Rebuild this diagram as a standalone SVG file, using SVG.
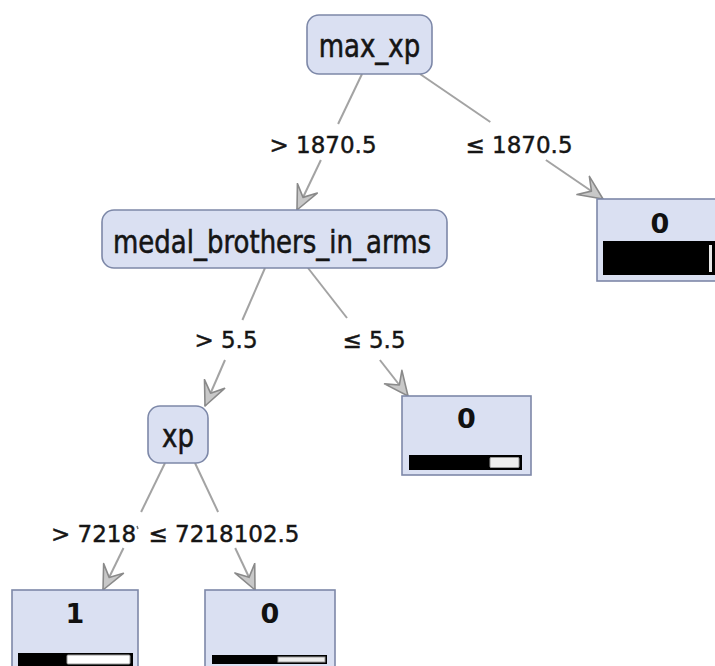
<svg xmlns="http://www.w3.org/2000/svg" width="715" height="666" viewBox="0 0 715 666">
<defs>
<marker id="arr" markerUnits="userSpaceOnUse" markerWidth="28" markerHeight="26" refX="25" refY="13" orient="auto">
<path d="M1,2 L25,13 L1,24 L11,13 Z" fill="#c8c8c8" stroke="#8a8a8a" stroke-width="1.6" stroke-linejoin="round"/>
</marker>
<style>
.node{fill:#dae0f2;stroke:#7d88a8;stroke-width:1.6}
.leaf{fill:#dae0f2;stroke:#7d88a8;stroke-width:1.6}
.nl{font-family:"DejaVu Sans",sans-serif;font-size:26px;fill:#151515;stroke:#151515;stroke-width:0.5;text-anchor:middle}
.el{font-family:"DejaVu Sans",sans-serif;font-size:23px;fill:#151515;stroke:#151515;stroke-width:0.45;text-anchor:middle}
.ll{font-family:"DejaVu Sans",sans-serif;font-weight:bold;font-size:27px;fill:#111;text-anchor:middle}
.ln{stroke:#a3a3a3;stroke-width:2;fill:none}
.bar{fill:#000}
.bw{fill:#eeeeee;stroke:#9a9a9a;stroke-width:1}
</style>
</defs>
<rect width="715" height="666" fill="#ffffff"/>
<g id="connectors">
<line class="ln" x1="362" y1="74" x2="338.1" y2="124"/>
<line class="ln" x1="320.9" y1="160" x2="297" y2="210" marker-end="url(#arr)"/>
<line class="ln" x1="420" y1="74" x2="490.3" y2="122"/>
<line class="ln" x1="545.9" y1="160" x2="603" y2="199" marker-end="url(#arr)"/>
<line class="ln" x1="265" y1="268" x2="242.4" y2="320"/>
<line class="ln" x1="225" y1="360" x2="205" y2="406" marker-end="url(#arr)"/>
<line class="ln" x1="308" y1="268" x2="347" y2="318"/>
<line class="ln" x1="379.9" y1="360" x2="408" y2="396" marker-end="url(#arr)"/>
<line class="ln" x1="165" y1="463" x2="141.1" y2="512"/>
<line class="ln" x1="123.5" y1="548" x2="103" y2="590" marker-end="url(#arr)"/>
<line class="ln" x1="195" y1="463" x2="218.1" y2="512"/>
<line class="ln" x1="235.2" y1="548" x2="255" y2="590" marker-end="url(#arr)"/>
<text class="el" x="323" y="153">&gt; 1870.5</text>
<text class="el" x="519" y="153">≤ 1870.5</text>
<text class="el" x="226" y="348">&gt; 5.5</text>
<text class="el" x="374" y="348">≤ 5.5</text>
<text class="el" x="51" y="542" style="text-anchor:start">&gt; 7218</text>
<line x1="137" y1="526" x2="138" y2="529" stroke="#777" stroke-width="1.5"/>
<text class="el" x="224" y="542">≤ 7218102.5</text>
</g>
<g id="n_max_xp">
<rect class="node" x="307" y="15" width="125" height="59" rx="12"/>
<text class="nl" transform="translate(369.5,57) scale(1,1.2)">max_xp</text>
</g>
<g id="n_leaf_top">
<rect class="leaf" x="597" y="199" width="128" height="82"/>
<text class="ll" x="660" y="233">0</text>
<rect class="bar" x="603" y="241" width="118" height="34"/>
<rect x="709" y="245" width="3" height="27" fill="#e8e8e8"/>
</g>
<g id="n_medal">
<rect class="node" x="102" y="210" width="345" height="58" rx="12"/>
<text class="nl" transform="translate(272,253) scale(1,1.2)">medal_brothers_in_arms</text>
</g>
<g id="n_leaf_mid">
<rect class="leaf" x="402" y="396" width="129" height="79"/>
<text class="ll" x="466.5" y="428">0</text>
<rect class="bar" x="409" y="455" width="113" height="15"/>
<rect class="bw" x="490" y="457.5" width="29" height="10" rx="1"/>
</g>
<g id="n_xp">
<rect class="node" x="148" y="406" width="60" height="57" rx="12"/>
<text class="nl" transform="translate(178,447) scale(1,1.2)">xp</text>
</g>
<g id="n_leaf_1">
<rect class="leaf" x="12" y="590" width="126" height="90"/>
<text class="ll" x="75" y="623">1</text>
<rect class="bar" x="18" y="653" width="115" height="13"/>
<rect x="67" y="655" width="63" height="9" fill="#ffffff" stroke="#9a9a9a" stroke-width="1" rx="1"/>
</g>
<g id="n_leaf_0b">
<rect class="leaf" x="205" y="590" width="130" height="90"/>
<text class="ll" x="270" y="623">0</text>
<rect class="bar" x="212" y="655" width="115" height="9"/>
<rect class="bw" x="278" y="657" width="47" height="5"/>
</g>
</svg>
